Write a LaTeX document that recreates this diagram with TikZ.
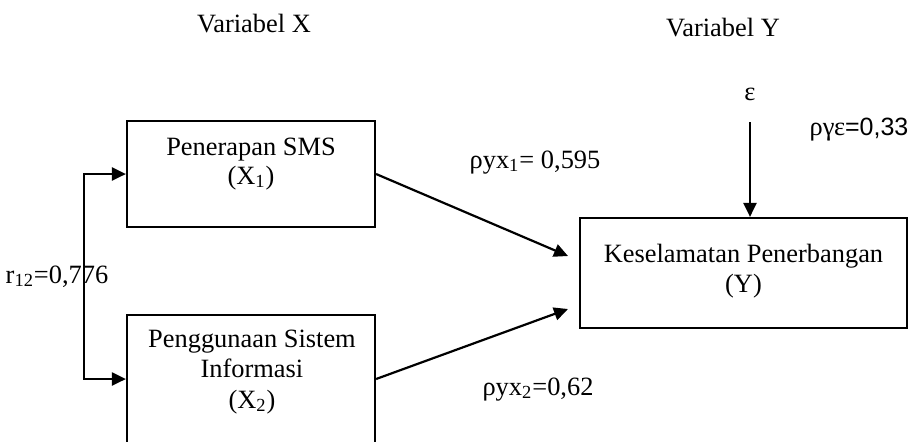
\documentclass[tikz,border=0pt]{standalone}
\usepackage{fontspec}
\setmainfont{Liberation Serif}
\newfontfamily\arialf{Liberation Sans}
\usetikzlibrary{arrows.meta}
\begin{document}
\begin{tikzpicture}[x=0.5pt,y=-0.5pt,
  box/.style={draw,line width=1.1pt,inner sep=0pt},
  txt/.style={font=\fontsize{13.2}{15}\selectfont,inner sep=0pt,anchor=base},
  arr/.style={line width=1.1pt,-{Triangle[length=7pt,width=6.5pt]}},
  darr/.style={line width=1.1pt,{Triangle[length=7pt,width=6.5pt]}-{Triangle[length=7pt,width=6.5pt]}}]
\useasboundingbox (0,0) rectangle (909,441);
\clip (0,0) rectangle (909,441);
% titles
\node[txt] (vx) at (254,32) {Variabel X};
\node[txt] (vy) at (723,36) {Variabel Y};
% boxes
\node[box,minimum width=124pt,minimum height=53pt] (x1) at (251,174) {};
\node[box,minimum width=124pt,minimum height=64pt] (x2) at (251,379) {};
\node[box,minimum width=163.5pt,minimum height=55pt] (y) at (743.5,273) {};
% box texts
\node[txt] (x1a) at (251,155) {Penerapan SMS};
\node[txt] (x1b) at (251,184) {(X\textsubscript{1})};
\node[txt] (x2a) at (252,347) {Penggunaan Sistem};
\node[txt] (x2b) at (252,377) {Informasi};
\node[txt] (x2c) at (252,408) {(X\textsubscript{2})};
\node[txt] (ya) at (743.5,262) {Keselamatan Penerbangan};
\node[txt] (yb) at (743.5,292) {(Y)};
% epsilon
\node[txt] (eps) at (750,100) {ε};
\coordinate (e0) at (750,122);
% targets
\coordinate (t1) at (568,256);
\coordinate (t2) at (568,309);
% connectors
\draw[arr] (x1.east) -- (t1);
\draw[arr] (x2.east) -- (t2);
\draw[arr] (e0) -- (e0 |- y.north);
\draw[darr] (x1.west) -- ++(-42,0) |- (x2.west);
% labels
\node[txt] (l1) at (535,168) {ρyx\textsubscript{1}= 0,595};
\node[txt] (l2) at (538,395) {ρyx\textsubscript{2}=0,62};
\node[txt] (l3) at (859,135) {ργε{\arialf\fontsize{12.5}{15}\selectfont=0,33}};
\node[txt] (l4) at (57,283) {r\textsubscript{12}=0,776};
\end{tikzpicture}
\end{document}
